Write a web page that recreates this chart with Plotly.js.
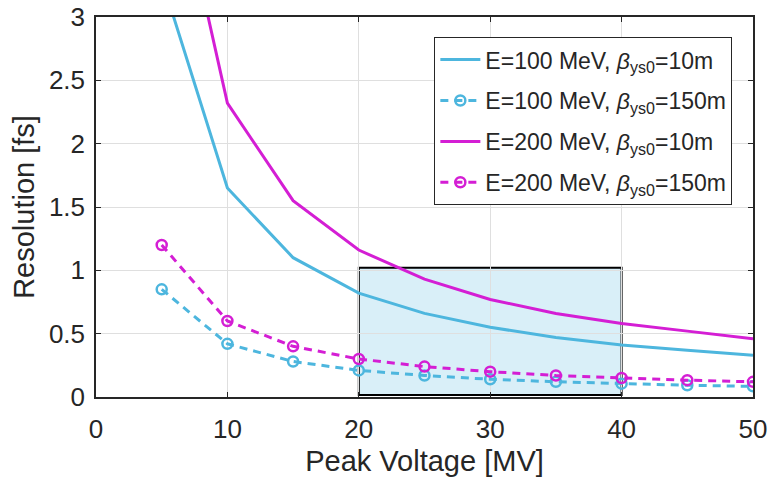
<!DOCTYPE html>
<html>
<head>
<meta charset="utf-8">
<script src="https://cdn.plot.ly/plotly-3.0.1.min.js"></script>
<style>html,body{margin:0;padding:0;background:#fff;}#chart{width:769px;height:482px;}</style>
</head>
<body>
<div id="chart"></div>
<script>
const voltage = [5, 10, 15, 20, 25, 30, 35, 40, 45, 50];
const res100_10 = [3.30, 1.65, 1.10, 0.82, 0.66, 0.55, 0.47, 0.41, 0.37, 0.33];
const res100_150 = [0.85, 0.42, 0.28, 0.21, 0.17, 0.14, 0.12, 0.105, 0.093, 0.084];
const res200_10 = [4.64, 2.32, 1.55, 1.16, 0.93, 0.77, 0.66, 0.58, 0.52, 0.46];
const res200_150 = [1.20, 0.60, 0.40, 0.30, 0.24, 0.20, 0.17, 0.15, 0.133, 0.12];
const seriesNames = [
  'E=100 MeV, <i>β</i><sub>ys0</sub>=10m',
  'E=100 MeV, <i>β</i><sub>ys0</sub>=150m',
  'E=200 MeV, <i>β</i><sub>ys0</sub>=10m',
  'E=200 MeV, <i>β</i><sub>ys0</sub>=150m'
];
const xTicks = [0, 10, 20, 30, 40, 50];
const yTicks = [0, 0.5, 1, 1.5, 2, 2.5, 3];
const yTickText = ['0', '0.5', '1', '1.5', '2', '2.5', '3'];
const highlightX = [20, 40];
const highlightY = [0.015, 1.02];

const cyan = '#4DB6DE';
const magenta = '#D41ED4';
const font = '"Liberation Sans", Arial, sans-serif';

const traces = [
  {x: voltage, y: res100_10, name: seriesNames[0], legendgroup: 'a', mode: 'lines',
   line: {color: cyan, width: 3}},
  {x: voltage, y: res100_150, name: seriesNames[1], legendgroup: 'b', mode: 'lines+markers',
   line: {color: cyan, width: 3, dash: '8px,6px'},
   marker: {symbol: 'circle-open', size: 10, color: cyan, line: {width: 2.5, color: cyan}}},
  {x: voltage, y: res200_10, name: seriesNames[2], legendgroup: 'c', mode: 'lines',
   line: {color: magenta, width: 3}},
  {x: voltage, y: res200_150, name: seriesNames[3], legendgroup: 'd', mode: 'lines+markers',
   line: {color: magenta, width: 3, dash: '8px,6px'},
   marker: {symbol: 'circle-open', size: 10, color: magenta, line: {width: 2.5, color: magenta}}}
];

const layout = {
  width: 769, height: 482,
  margin: {l: 96, r: 16, t: 17, b: 85},
  paper_bgcolor: '#fff', plot_bgcolor: '#fff',
  showlegend: true,
  legend: {x: 0.515, y: 0.947, xanchor: 'left', yanchor: 'top',
    bgcolor: '#fff', bordercolor: '#262626', borderwidth: 1,
    font: {family: font, size: 23, color: '#262626'},
    itemwidth: 40, tracegroupgap: 8, traceorder: 'grouped'},
  xaxis: {range: [0, 50], tickvals: xTicks, ticks: 'inside', ticklen: 5, tickcolor: '#262626',
    showgrid: true, gridcolor: '#DFDFDF', showline: true, linecolor: '#262626', linewidth: 1.5,
    mirror: 'ticks', zeroline: false, automargin: false, ticklabelstandoff: 8,
    tickfont: {family: font, size: 26, color: '#262626'},
    title: {text: 'Peak Voltage [MV]', font: {family: font, size: 29, color: '#262626'}, standoff: 8}},
  yaxis: {range: [0, 3], tickvals: yTicks, ticktext: yTickText, ticks: 'inside', ticklen: 5, tickcolor: '#262626',
    showgrid: true, gridcolor: '#DFDFDF', showline: true, linecolor: '#262626', linewidth: 1.5,
    mirror: 'ticks', zeroline: false, automargin: false, ticklabelstandoff: 4,
    tickfont: {family: font, size: 26, color: '#262626'},
    title: {text: 'Resolution [fs]', font: {family: font, size: 29, color: '#262626'}, standoff: 6}},
  shapes: [{type: 'rect', xref: 'x', yref: 'y', layer: 'below',
    x0: highlightX[0], x1: highlightX[1], y0: highlightY[0], y1: highlightY[1],
    fillcolor: '#D9EFF8', line: {color: '#000', width: 2}}]
};

Plotly.newPlot('chart', traces, layout, {displayModeBar: false});
</script>
</body>
</html>
